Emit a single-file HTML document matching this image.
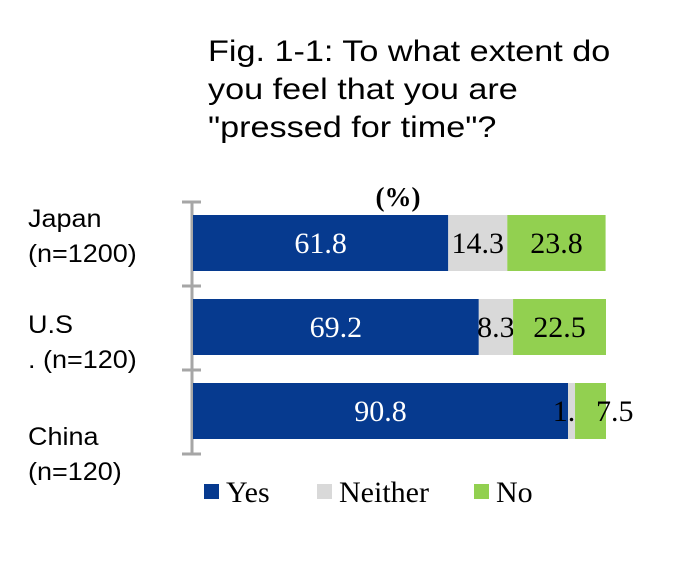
<!DOCTYPE html>
<html><head><meta charset="utf-8"><style>
body{margin:0;background:#fff;width:680px;height:564px;overflow:hidden}
</style></head><body>
<svg width="680" height="564" viewBox="0 0 680 564">
<g font-family="Liberation Sans, sans-serif" font-size="30" fill="#000" transform="translate(208,0) scale(1.14,1)">
<text x="0" y="61">Fig. 1-1: To what extent do</text>
<text x="0" y="99">you feel that you are</text>
<text x="0" y="137">"pressed for time"?</text>
</g>
<text x="398" y="206" text-anchor="middle" font-family="Liberation Serif, serif" font-weight="bold" font-size="27">(%)</text>
<g id="axis"></g>
<g id="bars"></g>
<g id="cats" font-family="Liberation Sans, sans-serif" font-size="25"></g>
<g id="legend" font-family="Liberation Serif, serif" font-size="30"></g>
</svg>
<script>
const categories=[["Japan","(n=1200)"],["U.S",". (n=120)"],["China","(n=120)"]];
const seriesNames=["Yes","Neither","No"];
const yes=[61.8,69.2,90.8];
const neither=[14.3,8.3,1.7];
const no=[23.8,22.5,7.5];
const colors=["#063a8f","#d9d9d9","#92d050"];
const NS="http://www.w3.org/2000/svg";
const x0=193,pxPer=4.13,bandTop=202,band=84,barH=56;
const xs=v=>x0+v*pxPer;
const yb=i=>bandTop+i*band+13;
const catY=[227,333,445];
function mk(t,a,p){const e=document.createElementNS(NS,t);for(const k in a)e.setAttribute(k,a[k]);p.appendChild(e);return e;}
const axis=document.getElementById('axis');
mk('line',{x1:192,x2:192,y1:bandTop,y2:bandTop+band*categories.length,stroke:'#a6a6a6','stroke-width':3},axis);
for(let i=0;i<=categories.length;i++){const t=mk('line',{x1:182,x2:201,y1:bandTop+i*band,y2:bandTop+i*band,stroke:'#a6a6a6','stroke-width':3},axis);

}
const bars=document.getElementById('bars');
const series=[yes,neither,no];
categories.forEach((c,i)=>{let acc=0;
series.forEach((s,j)=>{const v=s[i];
const r=mk('rect',{x:xs(acc),y:yb(i),width:v*pxPer,height:barH,fill:colors[j]},bars);


let cx=xs(acc+v/2),anchor='middle';
if(j===2&&v<10){cx=xs(acc)+21;anchor='start';}
const t=mk('text',{x:cx,y:yb(i)+barH/2+10,'text-anchor':anchor,'font-family':'Liberation Serif, serif','font-size':30,fill:j===0?'#fff':'#000'},bars);
t.textContent=v.toFixed(1);


acc+=v;});
const g=document.getElementById('cats');
const t=mk('text',{x:28,y:catY[i],transform:'translate(28,0) scale(1.08,1) translate(-28,0)'},g);


mk('tspan',{x:28},t).textContent=c[0];
mk('tspan',{x:28,dy:35},t).textContent=c[1];
});
const lg=document.getElementById('legend');
const lx=[204,317,474];
seriesNames.forEach((n,j)=>{
const r=mk('rect',{x:lx[j],y:484,width:15,height:15,fill:colors[j]},lg);


const t=mk('text',{x:lx[j]+22,y:502},lg);t.textContent=n;


});
</script>
</body></html>
